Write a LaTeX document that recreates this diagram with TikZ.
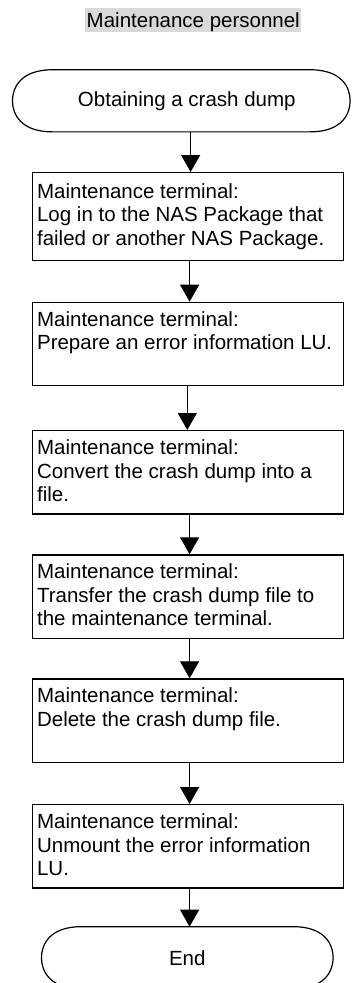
\documentclass[tikz,border=0pt]{standalone}
\usepackage{fontspec}
\setmainfont{Liberation Sans}
\usetikzlibrary{arrows.meta}
\definecolor{titlegray}{HTML}{D9D9D9}
\newcommand{\boxtext}[3]{\parbox[t][#1][t]{311pt}{\leftskip=4.5pt\rightskip=0pt plus 1fil\parindent=0pt\vspace*{#2}#3}}
\begin{document}
\begin{tikzpicture}[
  x=1pt,y=1pt,
  txt/.style={font=\fontsize{20.5pt}{23.3pt}\selectfont},
  lin/.style={line width=1.2pt,black},
  stepbox/.style={txt,draw,lin,inner sep=0pt,anchor=north west},
  termnode/.style={txt,inner sep=0pt,minimum height=61.7pt},
  arr/.style={lin,-{Triangle[length=17pt,width=19pt]}}
]
\useasboundingbox (0,0) rectangle (351,-983);
% title
\node[txt,fill=titlegray,inner xsep=1.5pt,inner ysep=0pt,text height=19.4pt,text depth=4pt,anchor=base] (title) at (193.3,-27.7) {Maintenance personnel};
% start terminator
\node[termnode,minimum width=337.3pt] (start) at (181.3,-100.8) {\hspace*{11pt}Obtaining a crash dump};
\draw[lin] ([xshift=40pt]start.north west) -- ([xshift=-40pt]start.north east)
  .. controls ([xshift=-8pt]start.north east) and ([yshift=13pt]start.east) .. (start.east)
  .. controls ([yshift=-13pt]start.east) and ([xshift=-8pt]start.south east) .. ([xshift=-40pt]start.south east)
  -- ([xshift=40pt]start.south west)
  .. controls ([xshift=8pt]start.south west) and ([yshift=-13pt]start.west) .. (start.west)
  .. controls ([yshift=13pt]start.west) and ([xshift=8pt]start.north west) .. cycle;
% boxes
\node[stepbox] (b1) at (32,-172) {\boxtext{88pt}{11.2pt}{Maintenance terminal:\\Log in to the NAS Package that\\failed or another NAS Package.}};
\node[stepbox] (b2) at (32,-301.7) {\boxtext{83.3pt}{9.5pt}{Maintenance terminal:\\Prepare an error information LU.}};
\node[stepbox] (b3) at (32,-430) {\boxtext{83.3pt}{9.5pt}{Maintenance terminal:\\Convert the crash dump into a\\file.}};
\node[stepbox] (b4) at (32,-554.3) {\boxtext{83.3pt}{9.2pt}{Maintenance terminal:\\Transfer the crash dump file to\\the maintenance terminal.}};
\node[stepbox] (b5) at (32,-678.3) {\boxtext{83.3pt}{9.2pt}{Maintenance terminal:\\Delete the crash dump file.}};
\node[stepbox] (b6) at (32,-804) {\boxtext{83.3pt}{9.3pt}{Maintenance terminal:\\Unmount the error information\\LU.}};
% end terminator
\node[termnode,minimum width=291.3pt] (end) at (187.3,-957.7) {End};
\draw[lin] ([xshift=40pt]end.north west) -- ([xshift=-40pt]end.north east)
  .. controls ([xshift=-8pt]end.north east) and ([yshift=13pt]end.east) .. (end.east)
  .. controls ([yshift=-13pt]end.east) and ([xshift=-8pt]end.south east) .. ([xshift=-40pt]end.south east)
  -- ([xshift=40pt]end.south west)
  .. controls ([xshift=8pt]end.south west) and ([yshift=-13pt]end.west) .. (end.west)
  .. controls ([yshift=13pt]end.west) and ([xshift=8pt]end.north west) .. cycle;
% arrows
\draw[arr] ([xshift=2.5pt]b1.north |- start.south) -- ([xshift=2.5pt]b1.north);
\draw[arr] ([xshift=1.5pt]b1.south) -- ([xshift=1.5pt]b2.north);
\draw[arr] ([xshift=-0.8pt]b2.south) -- ([xshift=-0.8pt]b3.north);
\draw[arr] ([xshift=1.5pt]b3.south) -- ([xshift=1.5pt]b4.north);
\draw[arr] ([xshift=1.5pt]b4.south) -- ([xshift=1.5pt]b5.north);
\draw[arr] ([xshift=1.5pt]b5.south) -- ([xshift=1.5pt]b6.north);
\draw[arr] ([xshift=1.5pt]b6.south) -- ([xshift=1.5pt]b6.south |- end.north);
\end{tikzpicture}
\end{document}
